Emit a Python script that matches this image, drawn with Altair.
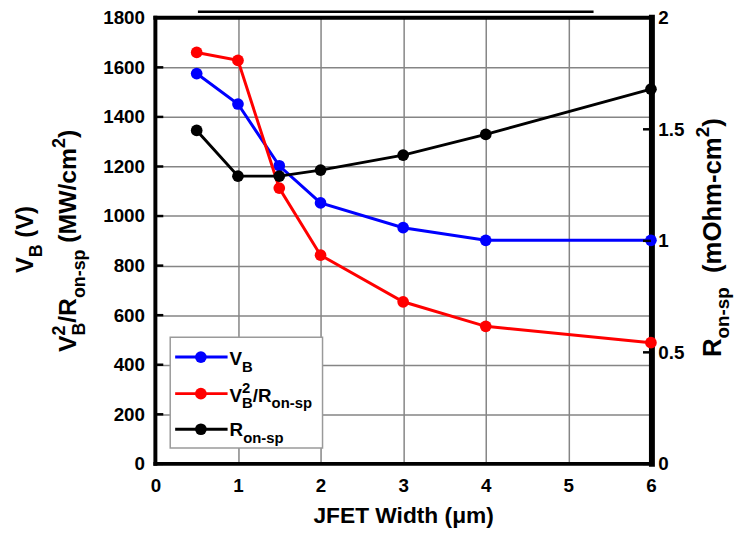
import altair as alt
import pandas as pd

FONT = "Liberation Sans"

# ---- data ----
jfet_width = [0.5, 1, 1.5, 2, 3, 4, 6]
vb = [1575, 1452, 1203, 1053, 953, 902, 902]
v2_ron = [1660, 1628, 1113, 842, 654, 555, 489]
ron = [1.495, 1.29, 1.29, 1.317, 1.384, 1.477, 1.68]

x_ticks = [0, 1, 2, 3, 4, 5, 6]
left_ticks = [0, 200, 400, 600, 800, 1000, 1200, 1400, 1600, 1800]
right_ticks = [0, 0.5, 1, 1.5, 2]

W, H = 501, 451
GRID = "#858585"

df_vb = pd.DataFrame({"x": jfet_width, "val": vb})
df_v2 = pd.DataFrame({"x": jfet_width, "val": v2_ron})
df_ron = pd.DataFrame({"x": jfet_width, "val": ron})
df_lt = pd.DataFrame({"val": left_ticks})
df_rt = pd.DataFrame({"val": right_ticks})
one = pd.DataFrame({"a": [0]})

lab = dict(labelFont=FONT, labelFontSize=19, labelFontWeight="bold", labelColor="black")

xenc = alt.X("x:Q", scale=alt.Scale(domain=[0, 6], nice=False, zero=False),
             axis=alt.Axis(values=x_ticks, format="d", title="JFET Width (μm)",
                           grid=True, gridColor=GRID, gridWidth=1.5, domain=False,
                           ticks=False, labelPadding=13, labelFlush=False,
                           titleFont=FONT, titleFontSize=23, titleFontWeight="bold",
                           titleColor="black", titlePadding=9, **lab))
yL = alt.Y("val:Q", scale=alt.Scale(domain=[0, 1800], nice=False),
           axis=alt.Axis(values=left_ticks, format="d", title=None, grid=True,
                         gridColor=GRID, gridWidth=1.5, domain=False, ticks=False,
                         labelPadding=11, **lab))
yR = alt.Y("val:Q", scale=alt.Scale(domain=[0, 2], nice=False),
           axis=alt.Axis(orient="right", values=right_ticks, format="~g", title=None,
                         grid=False, domain=False, ticks=False, labelPadding=7, **lab))


def series(df, color, y):
    line = alt.Chart(df).mark_line(color=color, strokeWidth=3).encode(x=xenc, y=y)
    pts = alt.Chart(df).mark_circle(color=color, size=140, opacity=1).encode(x=xenc, y=y)
    return [line, pts]


left_tick_marks = alt.Chart(df_lt).mark_rule(color="black", strokeWidth=2.5).encode(
    x=alt.value(0), x2=alt.value(8), y=yL)
right_tick_marks = alt.Chart(df_rt).mark_rule(color="black", strokeWidth=2.5).encode(
    x=alt.value(W - 8), x2=alt.value(W), y=yR)

left = alt.layer(left_tick_marks, *series(df_vb, "#0000ff", yL), *series(df_v2, "#ff0000", yL))
right = alt.layer(right_tick_marks, *series(df_ron, "black", yR))


def rule(x, x2, y, y2, color="black", sw=4, cap="square"):
    return alt.Chart(one).mark_rule(color=color, strokeWidth=sw, strokeCap=cap).encode(
        x=alt.value(x), x2=alt.value(x2), y=alt.value(y), y2=alt.value(y2))


frame = [
    rule(0, 0, 0, H),
    rule(0, W, H, H),
    rule(0, W, 0, 0),
    rule(W + 1, W + 1, 0, H, sw=6),
    rule(43, 443, -6, -6, sw=2.5, cap="butt"),
]

CW = {'V': .667, 'B': .722, 'R': .722, 'o': .611, 'n': .611, '-': .333, 's': .556,
      'p': .611, ' ': .278, '(': .333, ')': .333, 'M': .833, 'W': .944, '/': .278,
      'c': .556, 'm': .889, '2': .556, 'h': .611, 'O': .778}


def tw(s, size):
    return sum(CW.get(c, .6) for c in s) * size


def txt(s, x, y, size, angle=0):
    return alt.Chart(one).mark_text(text=s, font=FONT, fontWeight="bold", fontSize=size,
                                    align="left", baseline="alphabetic", angle=angle,
                                    color="black").encode(x=alt.value(x), y=alt.value(y))


def rich(pieces, x0, y0, main, small, sub_off, sup_off, vertical=False):
    out = []
    pos = 0
    for s, kind, adv in pieces:
        size = main if kind == "main" else small
        off = 0 if kind == "main" else (sub_off if kind == "sub" else sup_off)
        while s.startswith(" "):
            pos += tw(" ", size)
            s = s[1:]
        if vertical:
            out.append(txt(s, x0 + off, y0 - pos, size, 270))
        else:
            out.append(txt(s, x0 + pos, y0 + off, size))
        if adv:
            pos += tw(s, size)
    return out


VB = [("V", "main", True), ("B", "sub", True)]
V2R = [("V", "main", True), ("2", "sup", False), ("B", "sub", True),
       ("/R", "main", True), ("on-sp", "sub", True)]
RON = [("R", "main", True), ("on-sp", "sub", True)]

# legend
legend = [alt.Chart(one).mark_rect(fill="white", stroke="#9a9a9a", strokeWidth=1.5).encode(
    x=alt.value(15), x2=alt.value(169), y=alt.value(323), y2=alt.value(435))]
for yy, col in [(343, "#0000ff"), (380, "#ff0000"), (416, "black")]:
    legend.append(rule(20, 73, yy, yy, color=col, sw=3, cap="butt"))
    legend.append(alt.Chart(one).mark_circle(color=col, size=140, opacity=1).encode(
        x=alt.value(46), y=alt.value(yy)))
legend += rich(VB, 75, 351, 19, 15, 7, -9)
legend += rich(V2R, 75, 388, 19, 15, 7, -9)
legend += rich(RON, 75, 423, 19, 15, 7, -9)

# axis titles
titles = []
titles += rich(VB + [(" (V)", "main", True)], -124, 258, 24, 18, 9, -11, vertical=True)
titles += rich(V2R + [(" (MW/cm", "main", True), ("2", "sup", True), (")", "main", True)],
               -80, 338, 25, 18, 9, -11, vertical=True)
titles += rich(RON + [("  (mOhm-cm", "main", True), ("2", "sup", True), (")", "main", True)],
               572, 343, 26, 19, 8, -12, vertical=True)

chart = alt.layer(*frame, left, right, *legend, *titles).resolve_scale(
    y="independent"
).properties(
    width=W, height=H,
    autosize=alt.AutoSizeParams(type="none"),
    padding={"left": 149, "top": 7, "right": 85, "bottom": 66},
).configure_view(stroke=None)

chart.save("out.html", embed_options={"renderer": "svg", "actions": False})
